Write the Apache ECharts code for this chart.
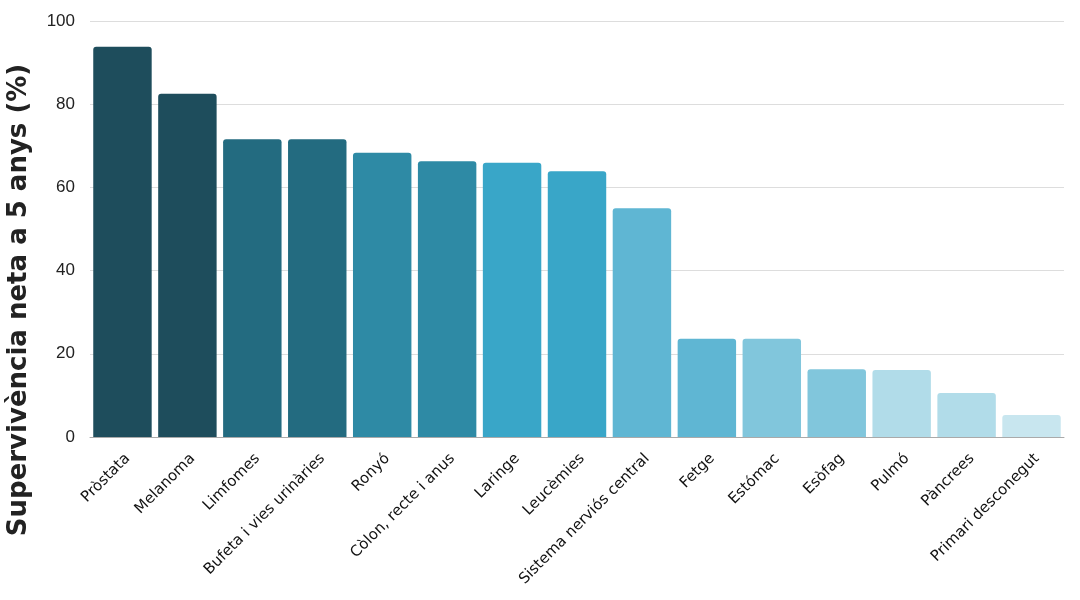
<!DOCTYPE html>
<html><head><meta charset="utf-8">
<script src="https://cdn.jsdelivr.net/npm/echarts@6/dist/echarts.min.js"></script>
<style>html,body{margin:0;padding:0;background:#fff}#c{width:1080px;height:600px}</style>
</head><body><div id="c"></div>
<script>
const categories = ["Pròstata","Melanoma","Limfomes","Bufeta i vies urinàries","Ronyó","Còlon, recte i anus","Laringe","Leucèmies","Sistema nerviós central","Fetge","Estómac","Esòfag","Pulmó","Pàncrees","Primari desconegut"];
const values = [93.8,82.5,71.6,71.6,68.3,66.3,65.9,63.9,55.0,23.6,23.6,16.3,16.1,10.6,5.3];
const colors = ["#1e4d5c","#1e4d5c","#236b80","#236b80","#2e8aa5","#2e8aa5","#39a6c8","#39a6c8","#5fb6d3","#5fb6d3","#81c6dc","#81c6dc","#b1dce9","#b1dce9","#c8e6ef"];
const yTicks = [0,20,40,60,80,100];
const yTitle = "Supervivència neta a 5 anys (%)";
const font = "DejaVu Sans";
const chart = echarts.init(document.getElementById('c'));
chart.setOption({
  animation:false,
  textStyle:{fontFamily:font},
  grid:{left:90,right:16,top:21,bottom:163,containLabel:false,outerBoundsMode:'none'},
  graphic:[{type:'text',left:6,top:'middle',rotation:Math.PI/2,
    style:{text:yTitle,font:'bold 26px "DejaVu Sans"',fill:'#222'}}],
  xAxis:{type:'category',data:categories,
    axisTick:{show:false},
    axisLine:{lineStyle:{color:'#aaa'}},
    axisLabel:{rotate:45,fontSize:15,color:'#111',fontFamily:font,interval:0,margin:14,verticalAlign:'top'}},
  yAxis:{type:'value',min:yTicks[0],max:yTicks[yTicks.length-1],interval:20,
    axisLabel:{fontSize:17,color:'#222',fontFamily:'Liberation Sans',margin:15},
    splitLine:{lineStyle:{color:'#ddd'}}},
  series:[{type:'bar',barCategoryGap:'10%',
    data:values.map((v,i)=>({value:v,itemStyle:{color:colors[i]}})),
    itemStyle:{borderRadius:[3,3,0,0]}}]
});
</script></body></html>
